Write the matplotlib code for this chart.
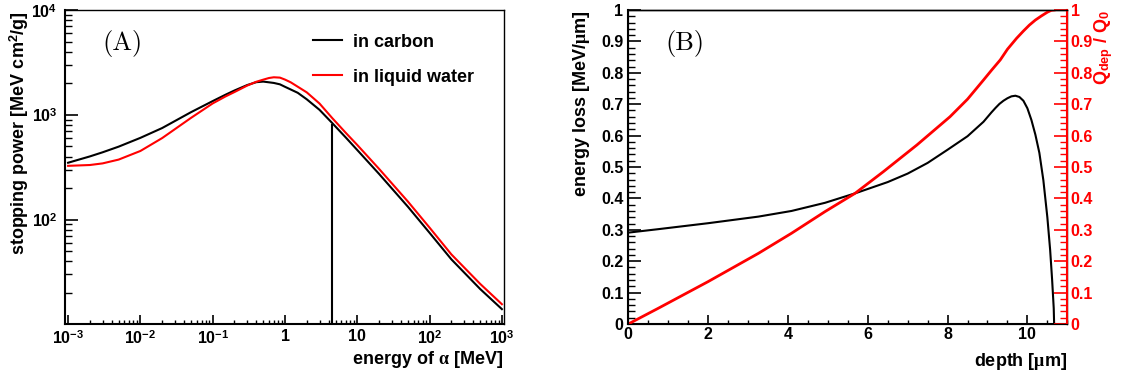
"""Alpha stopping power (A) and Bragg curve with deposited charge fraction (B)."""

import matplotlib
matplotlib.use("Agg")
import matplotlib.pyplot as plt
from matplotlib.ticker import MultipleLocator, NullFormatter, FormatStrFormatter

# (A) stopping power of alpha particles, MeV cm^2/g
energy_mev = [0.001, 0.002, 0.003, 0.005, 0.01, 0.02, 0.05, 0.1, 0.15, 0.2, 0.3,
              0.4, 0.5, 0.6, 0.7, 0.85, 1.0, 1.2, 1.5, 2.0, 3.0, 4.5, 7.0, 10.0,
              20.0, 50.0, 100.0, 200.0, 500.0, 1000.0]
stop_carbon = [349, 401, 439, 497, 603, 748, 1059, 1352, 1554, 1706, 1923,
               2048, 2075, 2042, 2014, 1954, 1850, 1744, 1622, 1406, 1116, 834,
               603, 461, 273, 133, 74.8, 41.8, 21.8, 14.0]
stop_water = [326, 332, 344, 374, 452, 600, 934, 1285, 1496, 1649, 1901,
              2066, 2165, 2245, 2281, 2264, 2168, 2042, 1854, 1637, 1282, 931,
              668, 515, 305, 149, 83.8, 46.6, 24.4, 15.6]
alpha_energy = 4.5    # MeV, marked by the vertical line
alpha_stop = 820

# (B) energy loss along the track and deposited fraction
depth_loss = [0.0, 0.75, 2.0, 3.26, 4.09, 4.93, 5.68, 6.0, 6.5, 7.0, 7.5, 8.0,
              8.5, 8.9, 9.0, 9.1, 9.2, 9.3, 9.4, 9.5, 9.6, 9.7, 9.8, 9.9, 10.0,
              10.1, 10.2, 10.3, 10.4, 10.5, 10.57, 10.62, 10.66, 10.67]
energy_loss = [0.291, 0.302, 0.321, 0.342, 0.360, 0.386, 0.416, 0.430, 0.452,
               0.479, 0.513, 0.555, 0.598, 0.644, 0.659, 0.674, 0.688, 0.701,
               0.711, 0.719, 0.725, 0.727, 0.723, 0.711, 0.687, 0.650, 0.603,
               0.545, 0.458, 0.340, 0.236, 0.140, 0.050, 0.0]
depth_q = [0.0, 0.75, 2.0, 3.26, 4.09, 4.93, 5.68, 6.39, 7.23, 8.06, 8.5, 8.9,
           9.1, 9.32, 9.5, 9.73, 9.9, 10.05, 10.2, 10.35, 10.5, 10.6, 10.67]
q_frac = [0.0, 0.050, 0.135, 0.225, 0.289, 0.358, 0.416, 0.485, 0.570, 0.660,
          0.716, 0.777, 0.808, 0.841, 0.875, 0.910, 0.933, 0.952, 0.968, 0.981,
          0.993, 0.999, 1.0]

plt.rcParams["font.family"] = ["Liberation Sans", "DejaVu Sans"]
plt.rcParams["font.weight"] = "bold"
plt.rcParams["mathtext.fontset"] = "custom"
plt.rcParams["mathtext.rm"] = "Liberation Sans:bold"
plt.rcParams["mathtext.bf"] = "Liberation Sans:bold"
plt.rcParams["mathtext.it"] = "Liberation Serif"
plt.rcParams["xtick.direction"] = "in"
plt.rcParams["ytick.direction"] = "in"

W, H = 1126, 379
fig = plt.figure(figsize=(W / 100, H / 100), dpi=100)


def frac(x0, y0, x1, y1):
    return [x0 / W, 1 - y1 / H, (x1 - x0) / W, (y1 - y0) / H]


def style_frame(ax):
    for side in ("left", "bottom"):
        ax.spines[side].set_linewidth(1.5)
    for side in ("top", "right"):
        ax.spines[side].set_linewidth(1.0)


# ---- panel A ----
ax = fig.add_axes(frac(65, 10, 504, 324))
ax.plot(energy_mev, stop_carbon, color="black", lw=1.5, label="in carbon")
ax.plot(energy_mev, stop_water, color="red", lw=1.5, label="in liquid water")
ax.set_xscale("log")
ax.set_yscale("log")
ax.set_xlim(10 ** -3.043, 10 ** 3.029)
ax.set_ylim(10.1, 1e4)
ax.vlines(alpha_energy, ax.get_ylim()[0], alpha_stop, color="black", lw=1.5)

ax.set_xticks([1e-3, 1e-2, 1e-1, 1, 10, 1e2, 1e3],
              [r"$10^{-3}$", r"$10^{-2}$", r"$10^{-1}$", "1", "10",
               r"$10^{2}$", r"$10^{3}$"])
ax.set_xticks([m * 10.0 ** d for d in range(-3, 3) for m in range(2, 10)],
              minor=True)
ax.set_yticks([1e2, 1e3, 1e4], [r"$10^{2}$", r"$10^{3}$", r"$10^{4}$"])
ax.set_yticks([m * 10.0 ** d for d in range(1, 4) for m in range(2, 10)],
              minor=True)
ax.xaxis.set_minor_formatter(NullFormatter())
ax.yaxis.set_minor_formatter(NullFormatter())
ax.tick_params(axis="x", which="major", length=6.5, width=1.2, pad=3.5, labelsize=11.5)
ax.tick_params(axis="x", which="minor", length=3.2, width=1.0)
ax.tick_params(axis="y", which="major", length=9.4, width=1.2, pad=5.5, labelsize=11.5)
ax.tick_params(axis="y", which="minor", length=5.0, width=1.0)
style_frame(ax)

ax.legend(loc="upper left", bbox_to_anchor=(0.565, 0.925), frameon=False,
          fontsize=13, handlelength=1.6, handletextpad=0.6, labelspacing=1.0,
          borderpad=0, borderaxespad=0)
ax.text(0.084, 0.892, "(A)", transform=ax.transAxes, family="cmr10",
        fontsize=19, ha="left", va="center")
fig.text(503 / W, 1 - 360 / H, r"energy of $\alpha$ [MeV]", fontsize=13,
         ha="right", va="center")
fig.text(19 / W, 1 - 11 / H, r"stopping power [MeV cm$^{2}$/g]", fontsize=13,
         rotation=90, ha="center", va="top")

# ---- panel B ----
bx = fig.add_axes(frac(628.3, 10, 1067.3, 324))
bx.plot(depth_loss, energy_loss, color="black", lw=1.5)
bx.set_xlim(0, 11)
bx.set_ylim(0, 1)
bx.xaxis.set_major_locator(MultipleLocator(2))
bx.xaxis.set_minor_locator(MultipleLocator(0.5))
bx.yaxis.set_major_locator(MultipleLocator(0.1))
bx.yaxis.set_minor_locator(MultipleLocator(0.02))
bx.xaxis.set_major_formatter(FormatStrFormatter("%g"))
bx.yaxis.set_major_formatter(FormatStrFormatter("%g"))
bx.tick_params(axis="x", which="major", length=6.5, width=1.2, pad=2.5, labelsize=11.5)
bx.tick_params(axis="x", which="minor", length=3.2, width=1.0)
bx.tick_params(axis="y", which="major", length=9.4, width=1.2, pad=3.5, labelsize=11.5)
bx.tick_params(axis="y", which="minor", length=5.0, width=1.0)
style_frame(bx)

qx = bx.twinx()
qx.plot(depth_q, q_frac, color="red", lw=2.0)
qx.set_ylim(0, 1)
qx.yaxis.set_major_locator(MultipleLocator(0.1))
qx.yaxis.set_minor_locator(MultipleLocator(0.02))
qx.yaxis.set_major_formatter(FormatStrFormatter("%g"))
qx.tick_params(axis="y", which="major", length=9.4, width=1.2, pad=2.5,
               labelsize=11.5, color="red", labelcolor="red")
qx.tick_params(axis="y", which="minor", length=5.0, width=1.0, color="red")
qx.spines["right"].set_color("red")
qx.spines["right"].set_linewidth(1.5)
qx.spines["top"].set_linewidth(1.0)

bx.text(0.0836, 0.892, "(B)", transform=bx.transAxes, family="cmr10",
        fontsize=19, ha="left", va="center")
fig.text(1067 / W, 1 - 362 / H, r"depth [$\mu$m]", fontsize=13,
         ha="right", va="center")
fig.text(581 / W, 1 - 11 / H, r"energy loss [MeV/$\mu$m]", fontsize=13,
         rotation=90, ha="center", va="top")
fig.text(1104 / W, 1 - 10 / H, r"Q$_{\mathrm{dep}}$ / Q$_{0}$", fontsize=13,
         color="red", rotation=90, ha="center", va="top")

fig.savefig("out.png", dpi=100, facecolor="white")
